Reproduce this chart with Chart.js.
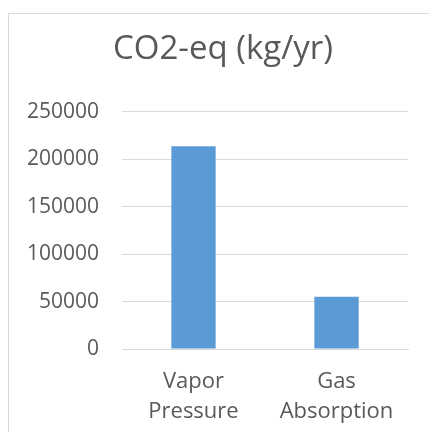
<!DOCTYPE html>
<html>
<head>
<meta charset="utf-8">
<script src="https://cdn.jsdelivr.net/npm/chart.js@4"></script>
<style>
  html, body { margin: 0; padding: 0; background: #fff; overflow: hidden; }
  #frame {
    position: absolute; left: 8px; top: 13px;
    width: 428px; height: 430px;
    border: 1px solid #d9d9d9;
  }
</style>
</head>
<body>
<div id="frame"><canvas id="chart_div"></canvas></div>
<script>
const categories = [['Vapor', 'Pressure'], ['Gas', 'Absorption']];
const co2Values = [213500, 55000];
const yTicks = [0, 50000, 100000, 150000, 200000, 250000];

// ===========================================================================

function createBarChart(ctx) {
    return new Chart(ctx, {
      type: 'bar',
      data: {
        labels: categories,
        datasets: [{
          data: co2Values,
          backgroundColor: '#5B9BD5',
          categoryPercentage: 1,
          barPercentage: 0.31
        }]
      },
      options: {
        responsive: false,
        animation: false,
        layout: { padding: 0 },
        plugins: {
          legend: { display: false },
          tooltip: { enabled: false },
          title: {
            display: true,
            text: 'CO2-eq (kg/yr)',
            color: '#595959',
            font: { family: 'Open Sans', size: 33, weight: 'normal', lineHeight: 1.2 },
            padding: { top: 16, bottom: 42 }
          }
        },
        scales: {
          x: {
            grid: { display: false, drawTicks: false },
            border: { display: true, color: '#d9d9d9', width: 1 },
            ticks: {
              color: '#595959',
              font: { family: 'Open Sans', size: 22, lineHeight: 1.36 },
              padding: 18,
              maxRotation: 0
            },
            afterFit: (scale) => { scale.height = 83; }
          },
          y: {
            min: 0,
            max: 250000,
            afterBuildTicks: (scale) => { scale.ticks = yTicks.map(v => ({ value: v })); },
            grid: { color: '#d9d9d9', lineWidth: 1, drawTicks: false },
            border: { display: false },
            ticks: {
              color: '#595959',
              font: { family: 'Open Sans', size: 21 },
              padding: 23,
              callback: (value) => String(value)
            },
            afterFit: (scale) => { scale.width = 113; }
          },
          // empty right-hand spacer so the title stays centred on the whole chart
          spacer: {
            type: 'linear',
            position: 'right',
            display: true,
            grid: { display: false, drawTicks: false },
            border: { display: false },
            ticks: { display: false },
            afterFit: (scale) => { scale.width = 29; }
          }
        }
      }
    });
}

//===========================================================================

const cv = document.getElementById('chart_div');
cv.width = 428;
cv.height = 418;
createBarChart(cv);
</script>
</body>
</html>
